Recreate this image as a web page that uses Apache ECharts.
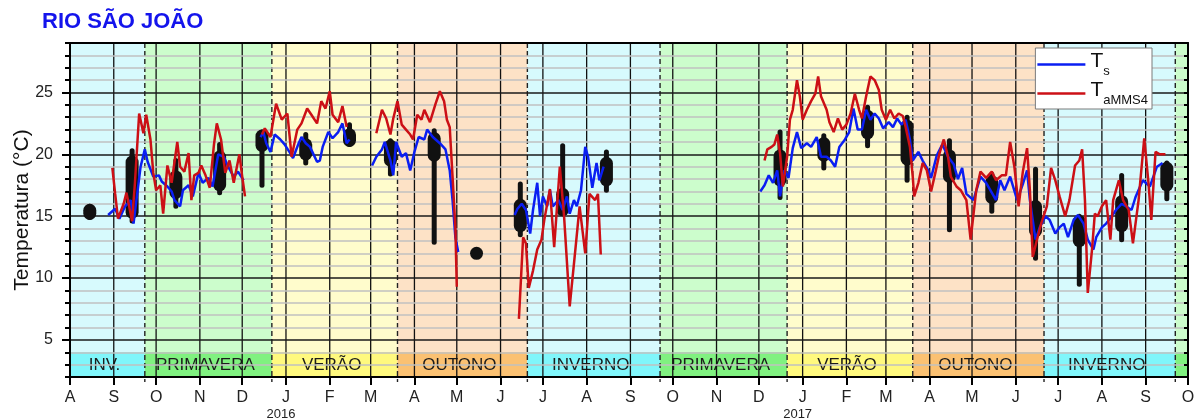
<!DOCTYPE html>
<html>
<head>
<meta charset="utf-8">
<script src="https://cdn.jsdelivr.net/npm/echarts@6/dist/echarts.min.js"></script>
<style>
  html, body { margin: 0; padding: 0; background: #ffffff; }
  #chart { width: 1200px; height: 419px; }
</style>
</head>
<body>
<div id="chart"></div>
<script>
// ---------- axis ranges and tick labels ----------
const AXIS_START = '2015-08-01';
const AXIS_END = '2017-10-01';
const Y_MIN = 2;
const Y_MAX = 29;
const Y_LABELS = [5, 10, 15, 20, 25];
const MONTH_LETTERS = ['J', 'F', 'M', 'A', 'M', 'J', 'J', 'A', 'S', 'O', 'N', 'D'];

// ---------- seasons (southern hemisphere) ----------
const SEASON_LABELS = ['INV.', 'PRIMAVERA', 'VERÃO', 'OUTONO', 'INVERNO', 'PRIMAVERA', 'VERÃO', 'OUTONO', 'INVERNO', ''];
const SEASON_START = ['2015-08-01', '2015-09-23', '2015-12-22', '2016-03-20', '2016-06-20',
                      '2016-09-22', '2016-12-21', '2017-03-20', '2017-06-21', '2017-09-22'];
const SEASON_KIND = ['inverno', 'primavera', 'verao', 'outono', 'inverno',
                     'primavera', 'verao', 'outono', 'inverno', 'primavera'];
const STRIP_TOP = 4;

// ---------- Ts: water temperature (°C) ----------
const TS_2015 = [
  ['2015-08-28', 15.1], ['2015-09-02', 15.6], ['2015-09-05', 14.8], ['2015-09-09', 15.8], ['2015-09-13', 16.3],
  ['2015-09-15', 14.4], ['2015-09-20', 19.0], ['2015-09-23', 20.4], ['2015-09-25', 19.4], ['2015-09-29', 18.2],
  ['2015-10-03', 18.3], ['2015-10-05', 17.8], ['2015-10-09', 17.4], ['2015-10-12', 17.0], ['2015-10-14', 16.3],
  ['2015-10-18', 15.8], ['2015-10-20', 17.1], ['2015-10-24', 17.5], ['2015-10-27', 16.6], ['2015-10-31', 18.5],
  ['2015-11-03', 17.7], ['2015-11-07', 18.1], ['2015-11-10', 17.4], ['2015-11-14', 20.0], ['2015-11-18', 19.8],
  ['2015-11-21', 19.0], ['2015-11-25', 18.2], ['2015-11-28', 18.6], ['2015-12-02', 17.9]
];
const TS_SUMMER_2016 = [
  ['2015-12-14', 21.4], ['2015-12-16', 21.8], ['2015-12-18', 20.9], ['2015-12-21', 20.2], ['2015-12-24', 21.6],
  ['2015-12-28', 21.2], ['2015-12-31', 20.8], ['2016-01-04', 20.1], ['2016-01-06', 19.7], ['2016-01-10', 20.9],
  ['2016-01-12', 21.4], ['2016-01-15', 20.9], ['2016-01-18', 20.6], ['2016-01-23', 19.4], ['2016-01-25', 19.5],
  ['2016-01-27', 20.6], ['2016-01-31', 21.8], ['2016-02-03', 21.3], ['2016-02-07', 21.8], ['2016-02-10', 22.5],
  ['2016-02-13', 20.9], ['2016-02-15', 21.2]
];
const TS_AUTUMN_2016 = [
  ['2016-03-02', 19.1], ['2016-03-05', 19.8], ['2016-03-09', 20.4], ['2016-03-11', 21.0], ['2016-03-15', 19.5],
  ['2016-03-17', 18.3], ['2016-03-19', 21.0], ['2016-03-23', 19.8], ['2016-03-26', 20.1], ['2016-03-29', 18.7],
  ['2016-04-01', 20.2], ['2016-04-04', 21.4], ['2016-04-08', 21.2], ['2016-04-10', 22.0], ['2016-04-14', 21.4],
  ['2016-04-19', 20.9], ['2016-04-23', 20.4], ['2016-04-24', 20.5], ['2016-04-26', 18.7], ['2016-04-28', 16.3],
  ['2016-04-30', 13.3], ['2016-05-02', 12.1]
];
const TS_WINTER_2016 = [
  ['2016-06-11', 15.1], ['2016-06-13', 15.6], ['2016-06-16', 16.0], ['2016-06-19', 15.5], ['2016-06-22', 13.6],
  ['2016-06-24', 15.5], ['2016-06-27', 17.7], ['2016-06-29', 15.0], ['2016-07-01', 16.6], ['2016-07-04', 15.8],
  ['2016-07-06', 17.1], ['2016-07-08', 15.8], ['2016-07-12', 16.3], ['2016-07-15', 15.5], ['2016-07-18', 16.6],
  ['2016-07-20', 15.2], ['2016-07-23', 16.3], ['2016-07-25', 15.8], ['2016-07-28', 17.1], ['2016-07-31', 20.6],
  ['2016-08-02', 19.8], ['2016-08-05', 17.3], ['2016-08-08', 19.3], ['2016-08-10', 17.9], ['2016-08-13', 19.0]
];
const TS_2017 = [
  ['2016-12-02', 17.0], ['2016-12-05', 17.5], ['2016-12-08', 18.3], ['2016-12-11', 17.7], ['2016-12-14', 18.7],
  ['2016-12-16', 16.6], ['2016-12-19', 18.7], ['2016-12-22', 18.1], ['2016-12-25', 20.5], ['2016-12-28', 21.8],
  ['2016-12-31', 20.5], ['2017-01-04', 20.9], ['2017-01-07', 20.6], ['2017-01-11', 21.4], ['2017-01-14', 19.8],
  ['2017-01-18', 19.8], ['2017-01-21', 19.5], ['2017-01-24', 19.0], ['2017-01-27', 20.6], ['2017-01-31', 21.2],
  ['2017-02-03', 21.8], ['2017-02-06', 23.7], ['2017-02-09', 22.0], ['2017-02-12', 22.0], ['2017-02-15', 23.6],
  ['2017-02-18', 22.8], ['2017-02-21', 23.3], ['2017-02-24', 22.9], ['2017-02-27', 22.1], ['2017-03-03', 22.6],
  ['2017-03-06', 22.2], ['2017-03-09', 22.9], ['2017-03-12', 22.4], ['2017-03-15', 22.8], ['2017-03-18', 21.2],
  ['2017-03-20', 19.5], ['2017-03-24', 20.2], ['2017-03-27', 19.5], ['2017-03-31', 18.7], ['2017-04-02', 18.1],
  ['2017-04-06', 19.9], ['2017-04-10', 20.8], ['2017-04-14', 19.8], ['2017-04-18', 19.2], ['2017-04-21', 18.0],
  ['2017-04-24', 18.9], ['2017-04-27', 16.8], ['2017-05-02', 16.3], ['2017-05-07', 18.2], ['2017-05-11', 17.7],
  ['2017-05-15', 16.9], ['2017-05-18', 16.3], ['2017-05-21', 17.9], ['2017-05-24', 17.1], ['2017-05-28', 18.2],
  ['2017-06-02', 16.3], ['2017-06-06', 17.6], ['2017-06-09', 18.7], ['2017-06-11', 16.3], ['2017-06-15', 13.1],
  ['2017-06-18', 14.1], ['2017-06-22', 15.0], ['2017-06-25', 14.7], ['2017-06-29', 13.6], ['2017-07-02', 14.1],
  ['2017-07-05', 14.4], ['2017-07-08', 13.3], ['2017-07-12', 14.7], ['2017-07-15', 15.1], ['2017-07-19', 14.4],
  ['2017-07-22', 13.1], ['2017-07-26', 12.3], ['2017-07-28', 13.3], ['2017-08-01', 14.1], ['2017-08-04', 14.4],
  ['2017-08-08', 15.0], ['2017-08-11', 15.5], ['2017-08-15', 16.0], ['2017-08-18', 15.8], ['2017-08-22', 15.5],
  ['2017-08-25', 16.6], ['2017-08-30', 17.9], ['2017-09-04', 17.4], ['2017-09-09', 19.0], ['2017-09-13', 19.3]
];

// ---------- TaMMS4: air temperature (°C) ----------
const TA_2015 = [
  ['2015-08-31', 18.9], ['2015-09-02', 16.8], ['2015-09-04', 14.8], ['2015-09-08', 16.0], ['2015-09-10', 16.9],
  ['2015-09-14', 14.6], ['2015-09-16', 17.7], ['2015-09-19', 23.3], ['2015-09-22', 21.7], ['2015-09-24', 23.2],
  ['2015-09-27', 21.2], ['2015-09-29', 18.5], ['2015-10-01', 17.1], ['2015-10-04', 17.5], ['2015-10-06', 15.2],
  ['2015-10-09', 19.1], ['2015-10-12', 17.7], ['2015-10-16', 21.0], ['2015-10-18', 19.0], ['2015-10-21', 18.6],
  ['2015-10-24', 20.1], ['2015-10-26', 16.3], ['2015-10-28', 18.3], ['2015-10-31', 18.5], ['2015-11-02', 19.1],
  ['2015-11-05', 18.3], ['2015-11-08', 17.3], ['2015-11-11', 20.8], ['2015-11-13', 22.5], ['2015-11-16', 21.2],
  ['2015-11-19', 18.5], ['2015-11-22', 19.5], ['2015-11-25', 17.7], ['2015-11-29', 20.0], ['2015-12-01', 18.2],
  ['2015-12-03', 16.6]
];
const TA_SUMMER_2016 = [
  ['2015-12-15', 21.6], ['2015-12-17', 22.1], ['2015-12-21', 21.4], ['2015-12-25', 24.1], ['2015-12-29', 22.8],
  ['2016-01-02', 23.3], ['2016-01-05', 19.8], ['2016-01-09', 22.0], ['2016-01-12', 22.5], ['2016-01-16', 23.7],
  ['2016-01-19', 23.2], ['2016-01-23', 22.5], ['2016-01-26', 24.3], ['2016-01-29', 23.7], ['2016-02-01', 25.1],
  ['2016-02-03', 23.2], ['2016-02-07', 22.6], ['2016-02-10', 23.9], ['2016-02-13', 22.2]
];
const TA_AUTUMN_2016 = [
  ['2016-03-05', 21.7], ['2016-03-09', 23.6], ['2016-03-12', 22.9], ['2016-03-15', 21.6], ['2016-03-17', 22.9],
  ['2016-03-20', 24.3], ['2016-03-23', 22.4], ['2016-03-26', 22.0], ['2016-03-29', 21.6], ['2016-03-31', 21.2],
  ['2016-04-03', 23.2], ['2016-04-06', 22.8], ['2016-04-08', 23.6], ['2016-04-12', 22.6], ['2016-04-16', 24.1],
  ['2016-04-19', 25.1], ['2016-04-22', 24.3], ['2016-04-24', 22.8], ['2016-04-26', 22.2], ['2016-04-28', 18.2],
  ['2016-04-30', 14.1], ['2016-05-01', 9.3]
];
const TA_WINTER_2016 = [
  ['2016-06-14', 6.7], ['2016-06-17', 13.3], ['2016-06-19', 12.8], ['2016-06-21', 9.2], ['2016-06-24', 10.6],
  ['2016-06-27', 12.3], ['2016-06-30', 13.1], ['2016-07-02', 14.7], ['2016-07-06', 17.2], ['2016-07-09', 12.5],
  ['2016-07-13', 19.0], ['2016-07-16', 15.0], ['2016-07-20', 7.7], ['2016-07-24', 12.3], ['2016-07-27', 15.8],
  ['2016-07-31', 12.0], ['2016-08-03', 16.8], ['2016-08-07', 16.3], ['2016-08-09', 16.8], ['2016-08-11', 11.9]
];
const TA_2017 = [
  ['2016-12-05', 19.5], ['2016-12-07', 20.4], ['2016-12-10', 20.6], ['2016-12-12', 20.8], ['2016-12-14', 21.6],
  ['2016-12-16', 20.1], ['2016-12-18', 17.4], ['2016-12-21', 19.8], ['2016-12-23', 22.8], ['2016-12-25', 23.6],
  ['2016-12-28', 26.0], ['2016-12-30', 24.7], ['2017-01-01', 22.8], ['2017-01-04', 23.6], ['2017-01-07', 24.3],
  ['2017-01-10', 24.9], ['2017-01-12', 26.3], ['2017-01-14', 24.7], ['2017-01-18', 23.6], ['2017-01-20', 22.6],
  ['2017-01-23', 21.8], ['2017-01-26', 22.9], ['2017-01-29', 22.0], ['2017-02-01', 22.4], ['2017-02-04', 23.3],
  ['2017-02-07', 24.9], ['2017-02-10', 23.6], ['2017-02-12', 22.9], ['2017-02-15', 24.7], ['2017-02-18', 26.3],
  ['2017-02-21', 26.0], ['2017-02-24', 25.2], ['2017-02-26', 23.6], ['2017-03-01', 22.8], ['2017-03-04', 23.6],
  ['2017-03-07', 22.9], ['2017-03-10', 23.3], ['2017-03-13', 23.1], ['2017-03-15', 22.2], ['2017-03-18', 20.6],
  ['2017-03-20', 18.2], ['2017-03-21', 16.6], ['2017-03-24', 17.7], ['2017-03-27', 19.3], ['2017-03-30', 18.7],
  ['2017-04-02', 17.0], ['2017-04-05', 18.5], ['2017-04-08', 20.1], ['2017-04-11', 21.2], ['2017-04-14', 19.8],
  ['2017-04-16', 18.2], ['2017-04-20', 17.4], ['2017-04-23', 17.1], ['2017-04-27', 16.3], ['2017-04-30', 13.1],
  ['2017-05-04', 17.1], ['2017-05-07', 18.6], ['2017-05-11', 18.1], ['2017-05-15', 18.6], ['2017-05-18', 17.9],
  ['2017-05-22', 18.3], ['2017-05-25', 18.3], ['2017-05-28', 21.0], ['2017-05-31', 19.0], ['2017-06-03', 15.8],
  ['2017-06-06', 18.6], ['2017-06-09', 20.5], ['2017-06-11', 17.1], ['2017-06-13', 11.7], ['2017-06-16', 13.1],
  ['2017-06-19', 14.4], ['2017-06-23', 15.8], ['2017-06-26', 18.9], ['2017-06-29', 17.9], ['2017-07-02', 16.6],
  ['2017-07-06', 15.0], ['2017-07-09', 16.3], ['2017-07-13', 19.1], ['2017-07-16', 19.5], ['2017-07-18', 20.4],
  ['2017-07-20', 16.3], ['2017-07-22', 8.8], ['2017-07-25', 12.3], ['2017-07-27', 15.2], ['2017-07-29', 15.0],
  ['2017-08-01', 15.8], ['2017-08-04', 16.3], ['2017-08-07', 13.1], ['2017-08-09', 16.3], ['2017-08-13', 17.9],
  ['2017-08-16', 16.3], ['2017-08-20', 15.5], ['2017-08-23', 12.8], ['2017-08-27', 16.3], ['2017-08-31', 21.3],
  ['2017-09-03', 17.7], ['2017-09-05', 14.7], ['2017-09-08', 20.2], ['2017-09-11', 20.0], ['2017-09-15', 20.0]
];

// ---------- monthly field campaigns: min, lower, upper, max (°C) ----------
const CAMPAIGN_DATES = ['2015-08-15', '2015-09-14', '2015-10-15', '2015-11-15', '2015-12-15', '2016-01-15',
                        '2016-02-15', '2016-03-15', '2016-04-15', '2016-05-15', '2016-06-15', '2016-07-15',
                        '2016-08-15', '2016-12-16', '2017-01-16', '2017-02-16', '2017-03-16', '2017-04-15',
                        '2017-05-15', '2017-06-15', '2017-07-16', '2017-08-15', '2017-09-16'];
const CAMPAIGN_MIN   = [14.7, 14.4, 15.6, 16.7, 17.3, 19.1, 20.6, 18.2, 12.7, 12.0, 13.3, 15.0,
                        16.9, 16.3, 18.7, 20.5, 17.7, 13.7, 15.2, 11.4, 9.3, 12.9, 16.2];
const CAMPAIGN_LOW   = [14.7, 14.8, 16.4, 17.0, 20.2, 19.5, 20.6, 19.0, 19.4, 12.0, 13.7, 15.0,
                        17.4, 17.4, 19.4, 21.2, 19.1, 17.7, 16.0, 13.3, 12.5, 13.7, 17.0];
const CAMPAIGN_HIGH  = [16.0, 19.9, 18.7, 20.3, 22.0, 21.3, 22.1, 21.2, 21.8, 12.0, 16.4, 17.3,
                        19.8, 20.4, 21.4, 23.6, 22.8, 20.4, 18.3, 16.3, 15.1, 16.7, 19.4];
const CAMPAIGN_MAX   = [16.0, 20.5, 19.7, 21.0, 22.0, 21.8, 22.6, 21.3, 22.1, 12.0, 17.8, 20.9,
                        20.4, 22.0, 21.7, 24.0, 23.2, 21.3, 18.6, 19.0, 15.2, 18.5, 19.5];

// ---------- styling ----------
const FONT = 'Liberation Sans, Arial, Helvetica, sans-serif';
const SEASON_FILL  = { inverno: '#d7fafd', primavera: '#ccfdcc', verao: '#fffccc', outono: '#fde2c6' };
const SEASON_STRIP = { inverno: '#80f6fb', primavera: '#80f180', verao: '#fff97e', outono: '#fbc172' };
const BLUE = '#0a1ef2';
const RED = '#cc1016';

// ---------- helpers ----------
function toTs(s) {
  const p = s.split('-').map(Number);
  return Date.UTC(p[0], p[1] - 1, p[2]);
}
const X_MIN = toTs(AXIS_START);
const X_MAX = toTs(AXIS_END);

// first day of each month across the axis
const MONTH_STARTS = [];
(function () {
  const d = new Date(X_MIN);
  while (d.getTime() <= X_MAX) {
    MONTH_STARTS.push(d.getTime());
    d.setUTCMonth(d.getUTCMonth() + 1);
  }
})();

const seasonData = SEASON_START.map((s, i) => [
  toTs(s), i + 1 < SEASON_START.length ? toTs(SEASON_START[i + 1]) : X_MAX, Y_MIN, Y_MAX
]);
const monthLineData = MONTH_STARTS.filter(t => t > X_MIN && t < X_MAX).map(t => [t, Y_MIN, Y_MAX]);
const seasonLineData = SEASON_START.map(toTs).filter(t => t > X_MIN && t < X_MAX).map(t => [t, Y_MIN, Y_MAX]);
const campaignData = CAMPAIGN_DATES.map((d, i) => [
  toTs(d), CAMPAIGN_MIN[i], CAMPAIGN_LOW[i], CAMPAIGN_HIGH[i], CAMPAIGN_MAX[i]
]);

function lineSeries(name, color, seg) {
  return {
    name: name,
    type: 'line',
    data: seg.map(p => [toTs(p[0]), p[1]]),
    symbol: 'none',
    showSymbol: false,
    z: 5,
    lineStyle: { color: color, width: 2.5 },
    itemStyle: { color: color },
    emphasis: { disabled: true },
    silent: true
  };
}

const chart = echarts.init(document.getElementById('chart'), null, { renderer: 'canvas' });

const option = {
  animation: false,
  backgroundColor: '#ffffff',
  title: {
    text: 'RIO SÃO JOÃO',
    left: 37,
    top: 6,
    textStyle: { color: '#1414ec', fontSize: 22, fontWeight: 'bold', fontFamily: FONT }
  },
  legend: {
    data: ['Ts', 'TaMMS4'],
    orient: 'vertical',
    right: 48,
    top: 48,
    backgroundColor: '#ffffff',
    borderColor: '#7a7a7a',
    borderWidth: 1,
    padding: [3, 4, 2, 2],
    icon: 'rect',
    itemWidth: 48,
    itemHeight: 2.5,
    itemGap: 2,
    selectedMode: false,
    formatter: function (name) {
      return name === 'Ts' ? '{t|T}{s|s}' : '{t|T}{s|aMMS4}';
    },
    textStyle: {
      color: '#111',
      fontFamily: FONT,
      rich: {
        t: { fontSize: 21, fontFamily: FONT, color: '#111', padding: [0, 0, 6, 0] },
        s: { fontSize: 13, fontFamily: FONT, color: '#111', verticalAlign: 'bottom' }
      }
    }
  },
  grid: { left: 70, right: 12, top: 43, bottom: 42, containLabel: false, outerBoundsMode: 'none' },
  xAxis: [
    {
      type: 'value',
      min: X_MIN,
      max: X_MAX,
      position: 'bottom',
      axisLine: { show: true, onZero: false, lineStyle: { color: '#000', width: 2 } },
      axisTick: { show: true, customValues: MONTH_STARTS, length: 8, lineStyle: { color: '#000', width: 2 } },
      axisLabel: {
        show: true,
        customValues: MONTH_STARTS,
        margin: 12,
        fontSize: 16,
        color: '#222',
        fontFamily: FONT,
        lineHeight: 18,
        formatter: function (v) {
          const d = new Date(v);
          const letter = MONTH_LETTERS[d.getUTCMonth()];
          return d.getUTCMonth() === 0 ? letter + '\n{yr|' + d.getUTCFullYear() + '}' : letter;
        },
        rich: { yr: { fontSize: 13, lineHeight: 14, color: '#222', fontFamily: FONT, padding: [0, 10, 0, 0] } }
      },
      splitLine: { show: false }
    },
    {
      type: 'value',
      min: X_MIN,
      max: X_MAX,
      position: 'top',
      axisLine: { show: true, onZero: false, lineStyle: { color: '#000', width: 2 } },
      axisTick: { show: false },
      axisLabel: { show: false },
      splitLine: { show: false }
    }
  ],
  yAxis: [
    {
      type: 'value',
      min: Y_MIN,
      max: Y_MAX,
      interval: 1,
      position: 'left',
      name: 'Temperatura (°C)',
      nameLocation: 'middle',
      nameGap: 37,
      nameMoveOverlap: false,
      nameTextStyle: { fontSize: 21, color: '#111', fontFamily: FONT },
      axisLine: { show: true, onZero: false, lineStyle: { color: '#000', width: 2 } },
      axisTick: { show: true, length: 5, lineStyle: { color: '#000', width: 2 } },
      axisLabel: {
        margin: 17,
        fontSize: 16,
        color: '#222',
        fontFamily: FONT,
        formatter: v => (Y_LABELS.indexOf(v) >= 0 ? String(v) : '')
      },
      splitLine: {
        show: true,
        lineStyle: { color: ['#c0c0c0', '#c0c0c0', '#c0c0c0', '#1a1a1a', '#c0c0c0'], width: 1.6 }
      }
    },
    {
      type: 'value',
      min: Y_MIN,
      max: Y_MAX,
      position: 'left',
      axisLine: { show: false },
      axisTick: { show: true, customValues: Y_LABELS, length: 8, lineStyle: { color: '#000', width: 2 } },
      axisLabel: { show: false },
      splitLine: { show: false }
    },
    {
      type: 'value',
      min: Y_MIN,
      max: Y_MAX,
      interval: 1,
      position: 'right',
      axisLine: { show: true, onZero: false, lineStyle: { color: '#000', width: 2 } },
      axisTick: { show: true, inside: true, length: 4, lineStyle: { color: '#000', width: 2 } },
      axisLabel: { show: false },
      splitLine: { show: false }
    }
  ],
  series: [
    // season backgrounds with the labelled strip at the bottom
    {
      type: 'custom',
      name: 'seasons',
      z: -3,
      silent: true,
      data: seasonData,
      encode: { x: [0, 1], y: [2, 3] },
      renderItem: function (params, api) {
        const i = params.dataIndex;
        const kind = SEASON_KIND[i];
        const x0 = api.value(0), x1 = api.value(1);
        const tl = api.coord([x0, Y_MAX]);
        const br = api.coord([x1, Y_MIN]);
        const st = api.coord([x0, STRIP_TOP]);
        const mid = api.coord([(x0 + x1) / 2, (Y_MIN + STRIP_TOP) / 2]);
        const children = [
          { type: 'rect', shape: { x: tl[0], y: tl[1], width: br[0] - tl[0], height: br[1] - tl[1] },
            style: { fill: SEASON_FILL[kind] } },
          { type: 'rect', shape: { x: st[0], y: st[1], width: br[0] - st[0], height: br[1] - st[1] },
            style: { fill: SEASON_STRIP[kind] } }
        ];
        if (SEASON_LABELS[i]) {
          children.push({
            type: 'text',
            style: {
              text: SEASON_LABELS[i], x: mid[0] - 3, y: mid[1] + 1,
              align: 'center', verticalAlign: 'middle',
              fontSize: 17, fontFamily: FONT, fill: '#1c1c1c'
            }
          });
        }
        return { type: 'group', children: children };
      }
    },
    // monthly vertical grid lines
    {
      type: 'custom',
      name: 'months',
      z: -2,
      silent: true,
      data: monthLineData,
      encode: { x: 0, y: [1, 2] },
      renderItem: function (params, api) {
        const a = api.coord([api.value(0), Y_MAX]);
        const b = api.coord([api.value(0), Y_MIN]);
        return { type: 'line', shape: { x1: a[0], y1: a[1], x2: b[0], y2: b[1] },
                 style: { stroke: '#111', lineWidth: 1.3 } };
      }
    },
    // dashed season boundaries
    {
      type: 'custom',
      name: 'seasonBounds',
      z: -1,
      silent: true,
      data: seasonLineData,
      encode: { x: 0, y: [1, 2] },
      renderItem: function (params, api) {
        const a = api.coord([api.value(0), Y_MAX]);
        const b = api.coord([api.value(0), Y_MIN]);
        return { type: 'line', shape: { x1: a[0], y1: a[1], x2: b[0], y2: b[1] + 5 },
                 style: { stroke: '#222', lineWidth: 1.4, lineDash: [5, 3] } };
      }
    },
    // campaign ranges: thin bar min..max, rounded body low..high
    {
      type: 'custom',
      name: 'campaigns',
      z: 3,
      silent: true,
      data: campaignData,
      encode: { x: 0, y: [1, 2, 3, 4] },
      renderItem: function (params, api) {
        const x = api.value(0);
        const pMin = api.coord([x, api.value(1)]);
        const pLow = api.coord([x, api.value(2)]);
        const pHigh = api.coord([x, api.value(3)]);
        const pMax = api.coord([x, api.value(4)]);
        const bw = 13, ww = 5;
        let h = pLow[1] - pHigh[1];
        const cy = (pLow[1] + pHigh[1]) / 2;
        if (h < bw) h = bw;
        const wh = Math.max(pMin[1] - pMax[1], ww);
        return {
          type: 'group',
          children: [
            { type: 'rect', shape: { x: pMin[0] - ww / 2, y: pMax[1], width: ww, height: wh, r: ww / 2 },
              style: { fill: '#111' } },
            { type: 'rect', shape: { x: pMin[0] - bw / 2, y: cy - h / 2, width: bw, height: h, r: bw / 2 },
              style: { fill: '#111' } }
          ]
        };
      }
    },
    lineSeries('Ts', BLUE, TS_2015),
    lineSeries('Ts', BLUE, TS_SUMMER_2016),
    lineSeries('Ts', BLUE, TS_AUTUMN_2016),
    lineSeries('Ts', BLUE, TS_WINTER_2016),
    lineSeries('Ts', BLUE, TS_2017),
    lineSeries('TaMMS4', RED, TA_2015),
    lineSeries('TaMMS4', RED, TA_SUMMER_2016),
    lineSeries('TaMMS4', RED, TA_AUTUMN_2016),
    lineSeries('TaMMS4', RED, TA_WINTER_2016),
    lineSeries('TaMMS4', RED, TA_2017)
  ]
};

chart.setOption(option);
</script>
</body>
</html>
